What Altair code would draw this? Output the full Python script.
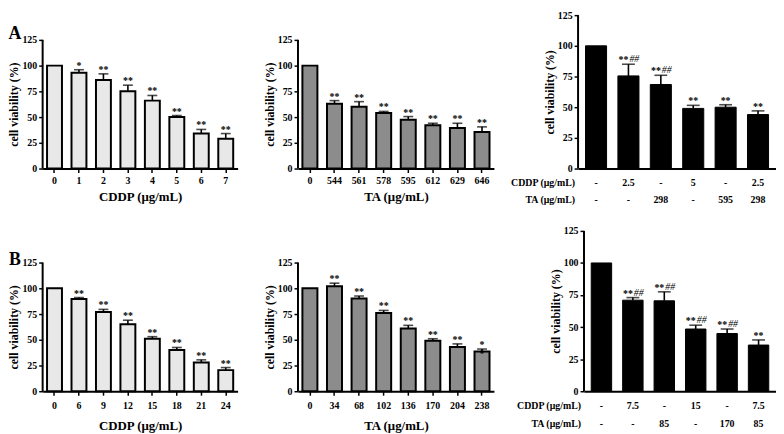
import altair as alt
import pandas as pd

FONT = "Liberation Serif"
YTICKS = [0, 25, 50, 75, 100, 125]
YTITLE = "cell viability (%)"

# ---------------- data ----------------
a1_cats = ["0", "1", "2", "3", "4", "5", "6", "7"]
a1_vals = [100, 93, 86, 75, 66, 50, 34, 29]
a1_errs = [0, 3, 6, 6, 5, 1.5, 4, 5]
a1_sig = ["", "*", "**", "**", "**", "**", "**", "**"]

a2_cats = ["0", "544", "561", "578", "595", "612", "629", "646"]
a2_vals = [100, 63, 60, 54, 47.5, 42, 39.5, 35.5]
a2_errs = [0, 3, 5, 1.5, 3, 2, 4.5, 5]
a2_sig = ["", "**", "**", "**", "**", "**", "**", "**"]

a3_cddp = ["-", "2.5", "-", "5", "-", "2.5"]
a3_ta = ["-", "-", "298", "-", "595", "298"]
a3_vals = [100, 75.5, 68.5, 49, 50, 44]
a3_errs = [0, 9.5, 7.5, 2.5, 2, 3]
a3_sig = ["", "**", "**", "**", "**", "**"]
a3_hash = ["", "##", "##", "", "", ""]

b1_cats = ["0", "6", "9", "12", "15", "18", "21", "24"]
b1_vals = [100, 89.5, 77, 65, 51, 40, 28, 20.5]
b1_errs = [0, 1.5, 2.5, 4, 2, 2.5, 2.5, 2.5]
b1_sig = ["", "**", "**", "**", "**", "**", "**", "**"]

b2_cats = ["0", "34", "68", "102", "136", "170", "204", "238"]
b2_vals = [100, 102, 90, 76, 61, 49, 43, 38.5]
b2_errs = [0, 3, 2.5, 2.5, 3, 2, 3, 2.5]
b2_sig = ["", "**", "**", "**", "**", "**", "**", "*\n*"]

b3_cddp = ["-", "7.5", "-", "15", "-", "7.5"]
b3_ta = ["-", "-", "85", "-", "170", "85"]
b3_vals = [100, 71, 70.5, 48.5, 45, 36]
b3_errs = [0, 2, 7, 3, 3.5, 4]
b3_sig = ["", "**", "**", "**", "**", "**"]
b3_hash = ["", "##", "##", "##", "##", ""]

CDDP_LABEL = "CDDP (μg/mL)"
TA_LABEL = "TA (μg/mL)"

# ---------------- layout ----------------
H_A = 155
H_B = 162
YMAX_A_SHORT = 125 * H_A / 130.0
YMAX_B_SHORT = 125 * H_B / 130.0


def text_chart(t, x, y, size, align="center", baseline="middle"):
    return alt.Chart(pd.DataFrame({"t": [t]})).mark_text(
        font=FONT, fontWeight="bold", fontSize=size, align=align,
        baseline=baseline, color="black"
    ).encode(x=alt.value(x), y=alt.value(y), text="t:N")


def build(cats, vals, errs, sig, hashes, W, H, ymax, fill, stroke, sw,
          pin, pout, cap, xaxis, letter=None, letter_y=0, rows=None,
          row_y=(15, 32)):
    df = pd.DataFrame({"cat": cats, "val": vals, "err": errs,
                       "sig": sig, "hash": hashes})
    df["top"] = df["val"] + df["err"]
    xs = alt.Scale(paddingInner=pin, paddingOuter=pout)
    ys = alt.Scale(domain=[0, ymax], nice=False, zero=True)
    yaxis = alt.Axis(values=YTICKS, domain=False, title=YTITLE,
                     titleY=H * (1 - 62.5 / ymax), titlePadding=1,
                     labelPadding=2)
    x = alt.X("cat:N", sort=cats, scale=xs, axis=xaxis)
    base = alt.Chart(df)
    bars = base.mark_bar(fill=fill, stroke=stroke, strokeWidth=sw).encode(
        x=x, y=alt.Y("val:Q", scale=ys, axis=yaxis))
    ef = base.transform_filter("datum.err > 0")
    rule = ef.mark_rule(color="black", strokeWidth=1.6).encode(
        x=x, y=alt.Y("val:Q", scale=ys, axis=yaxis), y2="top:Q")
    tick = ef.mark_tick(color="black", thickness=1.6, size=cap,
                        orient="horizontal").encode(
        x=x, y=alt.Y("top:Q", scale=ys, axis=yaxis))
    yaxis_line = alt.Chart(pd.DataFrame({"z": [0]})).mark_rule(
        color="black", strokeWidth=2).encode(
        x=alt.value(0), y=alt.datum(0, scale=ys, axis=yaxis), y2=alt.datum(125))
    sig_c = base.transform_filter("datum.sig != '' && datum.hash == ''").mark_text(
        font=FONT, fontWeight="bold", fontSize=10, baseline="alphabetic", dy=-1,
        lineBreak="\n", lineHeight=9, color="black").encode(
        x=x, y=alt.Y("top:Q", scale=ys, axis=yaxis), text="sig:N")
    sig_r = base.transform_filter("datum.hash != ''").mark_text(
        font=FONT, fontWeight="bold", fontSize=10, baseline="alphabetic", dy=-1,
        align="right", dx=0, color="black").encode(
        x=x, y=alt.Y("top:Q", scale=ys, axis=yaxis), text="sig:N")
    hash_l = base.transform_filter("datum.hash != ''").mark_text(
        font=FONT, fontStyle="italic", fontSize=10, baseline="alphabetic", dy=-2,
        align="left", dx=1, color="black").encode(
        x=x, y=alt.Y("top:Q", scale=ys, axis=yaxis), text="hash:N")
    layers = [bars, rule, tick, yaxis_line, sig_c, sig_r, hash_l]
    if rows is not None:
        cddp, ta = rows
        df["cddp"] = cddp
        df["ta"] = ta
        b2 = alt.Chart(df)
        layers.append(b2.mark_text(font=FONT, fontWeight="bold", fontSize=10,
                                   color="black").encode(
            x=x, y=alt.value(H + row_y[0]), text="cddp:N"))
        layers.append(b2.mark_text(font=FONT, fontWeight="bold", fontSize=10,
                                   color="black").encode(
            x=x, y=alt.value(H + row_y[1]), text="ta:N"))
        layers.append(text_chart(CDDP_LABEL, -3, H + row_y[0], 10, align="right"))
        layers.append(text_chart(TA_LABEL, -3, H + row_y[1], 10, align="right"))
    if letter is not None:
        layers.append(text_chart(letter, -28, letter_y, 18))
    return alt.layer(*layers).properties(width=W, height=H)


def dose_axis(title, lp, tp):
    return alt.Axis(title=title, labelAngle=0, labelPadding=lp,
                    titlePadding=tp, titleFontSize=13)


combo_axis = alt.Axis(labels=False, ticks=False, title=None)

empty = ["", "", "", "", "", "", "", ""]


def spacer(w):
    return alt.Chart(pd.DataFrame({"z": [0]})).mark_point(opacity=0).encode(
        x=alt.value(0), y=alt.value(0)).properties(width=w, height=10)


A1 = build(a1_cats, a1_vals, a1_errs, a1_sig, empty, 197, H_A, YMAX_A_SHORT,
           "#e8e8e8", "black", 2, 0.39, 0.18, 10,
           dose_axis("CDDP (μg/mL)", 3, 5), letter="A", letter_y=19)
A2 = build(a2_cats, a2_vals, a2_errs, a2_sig, empty, 198, H_A, YMAX_A_SHORT,
           "#8c8c8c", "black", 2, 0.39, 0.18, 10,
           dose_axis("TA (μg/mL)", 3, 5))
A3 = build([f"g{i}" for i in range(6)], a3_vals, a3_errs, a3_sig, a3_hash,
           200, H_A, 125, "black", "black", 1, 0.35, 0.23, 13,
           combo_axis, rows=(a3_cddp, a3_ta), row_y=(15, 32))

B1 = build(b1_cats, b1_vals, b1_errs, b1_sig, empty, 197, H_B, YMAX_B_SHORT,
           "#e8e8e8", "black", 2, 0.39, 0.18, 10,
           dose_axis("CDDP (μg/mL)", 5, 10), letter="B", letter_y=29)
B2 = build(b2_cats, b2_vals, b2_errs, b2_sig, empty, 198, H_B, YMAX_B_SHORT,
           "#8c8c8c", "black", 2, 0.39, 0.18, 10,
           dose_axis("TA (μg/mL)", 5, 10))
B3 = build([f"g{i}" for i in range(6)], b3_vals, b3_errs, b3_sig, b3_hash,
           194, H_B, 125, "black", "black", 1, 0.35, 0.23, 13,
           combo_axis, rows=(b3_cddp, b3_ta), row_y=(15, 33))

rowA = alt.hconcat(A1, spacer(61), A2, spacer(85), A3, spacing=0, bounds="flush")
rowB = alt.hconcat(B1, spacer(61), B2, spacer(91), B3, spacing=0, bounds="flush")

chart = alt.vconcat(rowA, rowB, spacing=21).properties(
    padding={"left": 0, "top": 0, "right": 0, "bottom": 0}
).configure_view(stroke=None).configure_axis(
    labelFont=FONT, labelFontWeight="bold", labelFontSize=10, labelColor="black",
    titleFont=FONT, titleFontWeight="bold", titleFontSize=12, titleColor="black",
    tickColor="black", domainColor="black", tickWidth=1.5, domainWidth=2,
    tickSize=4, grid=False
)

chart.save("out.html", embed_options={"renderer": "svg", "actions": False})
